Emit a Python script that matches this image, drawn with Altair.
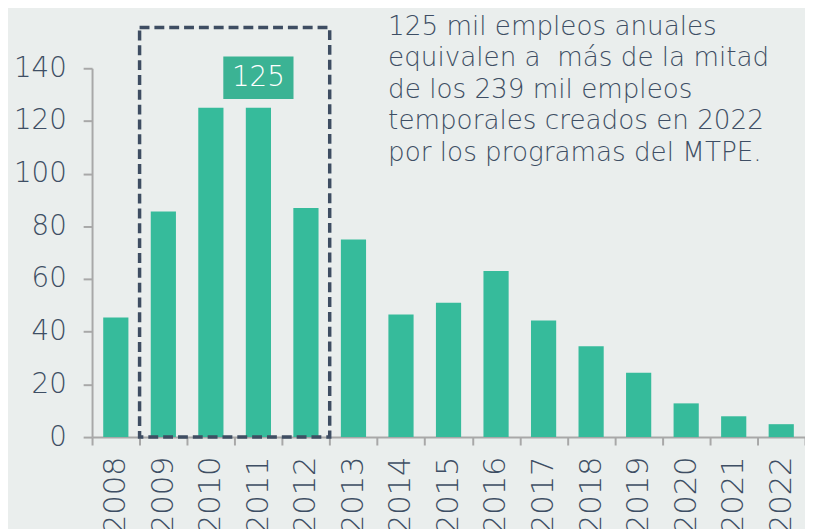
import altair as alt
import pandas as pd

years = ["2008", "2009", "2010", "2011", "2012", "2013", "2014", "2015",
         "2016", "2017", "2018", "2019", "2020", "2021", "2022"]
values = [45.4, 85.6, 125, 125, 87, 75, 46.5, 51, 63, 44.3, 34.5, 24.4, 12.8, 7.9, 4.9]
y_ticks = [0, 20, 40, 60, 80, 100, 120, 140]

box_start, box_end = "2009", "2012"
box_top = 155.5

label_year = "2011"
label_text = "125"
label_lo, label_hi, label_mid = 128.3, 144.5, 136.4

note_year = "2014"
note_y = 152.8
note_lines = [
    "125 mil empleos anuales",
    "equivalen a \u00a0más de la mitad",
    "de los 239 mil empleos",
    "temporales creados en 2022",
    "por los programas del MTPE.",
]

FONT = "DejaVu Sans"
W = 200
TXT = "#3e4e64"
GREEN = "#36bb9b"
AXC = "#a8a8a8"

df = pd.DataFrame({"year": years, "value": values})
xscale = alt.Scale(domain=years, paddingInner=0, paddingOuter=0)
yscale = alt.Scale(domain=[0, 140], nice=False)

bars = alt.Chart(df).mark_bar(width={"band": 0.53}, color=GREEN).encode(
    x=alt.X("year:N", scale=xscale, sort=years, title=None, axis=alt.Axis(
        title=None, labelAngle=-90, labelFontSize=31, labelFont=FONT,
        labelFontWeight=W, labelColor=TXT, labelPadding=11, tickSize=8,
        tickBand="extent", domainColor=AXC, domainWidth=2, tickColor=AXC,
        tickWidth=2)),
    y=alt.Y("value:Q", scale=yscale, title=None, axis=alt.Axis(
        title=None, values=y_ticks, labelFontSize=28, labelFont=FONT,
        labelFontWeight=W, labelColor=TXT, labelPadding=17, tickSize=9,
        domainColor=AXC, domainWidth=2, tickColor=AXC, tickWidth=2, grid=False)),
)

rect_df = pd.DataFrame({"s": [box_start], "e": [box_end], "y0": [0], "y1": [box_top]})
rect = alt.Chart(rect_df).mark_rect(
    fillOpacity=0, stroke="#3e4d62", strokeWidth=3.5, strokeDash=[10, 5]
).encode(
    x=alt.X("s:N", bandPosition=0, title=None),
    x2=alt.X2("e:N", bandPosition=1),
    y=alt.Y("y0:Q", title=None),
    y2="y1:Q",
)

lab_df = pd.DataFrame({"yr": [label_year], "lo": [label_lo], "hi": [label_hi],
                       "mid": [label_mid], "t": [label_text]})
lab_box = alt.Chart(lab_df).mark_bar(width=71, color="#3bb394").encode(
    x=alt.X("yr:N", title=None),
    y=alt.Y("lo:Q", title=None),
    y2="hi:Q",
)
lab_txt = alt.Chart(lab_df).mark_text(
    color="white", fontSize=28, font=FONT, fontWeight=W, baseline="middle"
).encode(
    x=alt.X("yr:N", title=None),
    y=alt.Y("mid:Q", title=None),
    text="t:N",
)

note_df = pd.DataFrame({"yr": [note_year], "y": [note_y]})
note = alt.Chart(note_df).mark_text(
    text=note_lines, align="left", baseline="alphabetic", fontSize=26.5,
    lineHeight=32, font=FONT, fontWeight=W, color=TXT, dx=11
).encode(
    x=alt.X("yr:N", bandPosition=0, title=None),
    y=alt.Y("y:Q", title=None),
)

chart = alt.layer(bars, rect, lab_box, lab_txt, note).properties(
    width=721, height=373,
    autosize=alt.AutoSizeParams(type="none"),
    padding={"left": 85, "top": 58, "right": 0, "bottom": 90},
    background="#eaeeed",
).configure_view(stroke=None)

chart.save("out.html", embed_options={"renderer": "svg", "actions": False})
